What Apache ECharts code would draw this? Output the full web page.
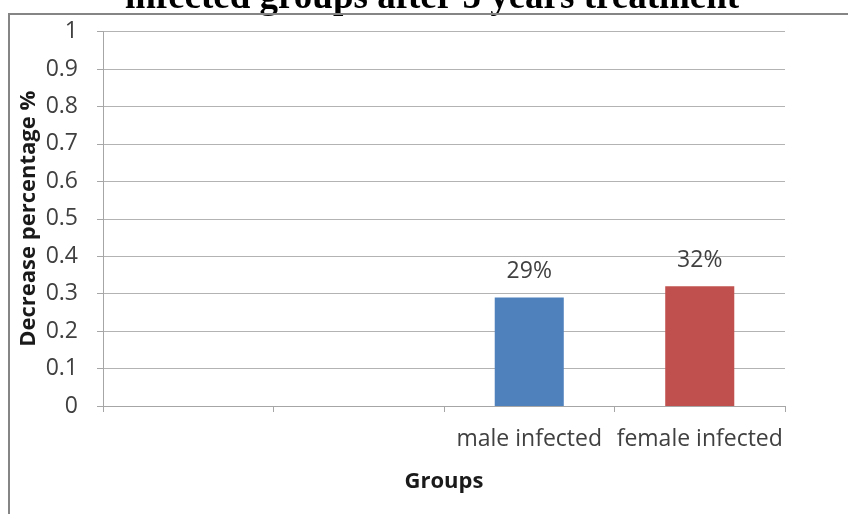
<!DOCTYPE html>
<html>
<head>
<meta charset="utf-8">
<script src="https://cdn.jsdelivr.net/npm/echarts@6/dist/echarts.min.js"></script>
<style>
  html, body { margin: 0; padding: 0; background: #fff; }
  #chart { width: 848px; height: 514px; }
</style>
</head>
<body>
<div id="chart"></div>
<script>
// Groups on the category axis (the first two slots are empty in the workbook)
const groups = ['', '', 'male infected', 'female infected'];
// Decrease fraction per group
const decrease = [null, null, 0.29, 0.32];
const barColors = ['#4F81BD', '#4F81BD', '#4F81BD', '#C0504D'];
// Value axis ticks
const yMin = 0;
const yMax = 1;
const yStep = 0.1;

const labelFont = 'Open Sans';
const chart = echarts.init(document.getElementById('chart'), null, { renderer: 'canvas' });

chart.setOption({
  animation: false,
  backgroundColor: '#fff',
  title: {
    text: 'infected groups after 5 years treatment',
    left: 120,
    top: -25,
    textStyle: {
      fontFamily: 'Liberation Serif',
      fontWeight: 'bold',
      fontSize: 37,
      color: '#000'
    }
  },
  graphic: [{
    type: 'rect',
    z: 100,
    shape: { x: 9, y: 14, width: 900, height: 600 },
    style: { fill: 'none', stroke: '#858585', lineWidth: 2 }
  }],
  grid: { left: 103, right: 63, top: 31.6, bottom: 108, containLabel: false },
  xAxis: {
    type: 'category',
    data: groups,
    name: 'Groups',
    nameLocation: 'middle',
    nameGap: 65,
    nameMoveOverlap: false,
    nameTextStyle: { fontFamily: labelFont, fontWeight: 'bold', fontSize: 22, color: '#1a1a1a' },
    axisLine: { lineStyle: { color: '#a6a6a6', width: 1 } },
    axisTick: { show: true, length: 6, lineStyle: { color: '#a6a6a6' } },
    axisLabel: { interval: 0, margin: 22, fontFamily: labelFont, fontSize: 23, color: '#404040' },
    splitLine: { show: false }
  },
  yAxis: {
    type: 'value',
    min: yMin,
    max: yMax,
    interval: yStep,
    name: 'Decrease percentage %',
    nameLocation: 'middle',
    nameGap: 63,
    nameMoveOverlap: false,
    nameTextStyle: { fontFamily: labelFont, fontWeight: 'bold', fontSize: 22, color: '#1a1a1a' },
    axisLine: { show: true, lineStyle: { color: '#a6a6a6', width: 1 } },
    axisTick: { show: true, length: 6, lineStyle: { color: '#a6a6a6' } },
    axisLabel: { margin: 25, fontFamily: labelFont, fontSize: 23, color: '#404040' },
    splitLine: { show: true, lineStyle: { color: '#b3b3b3', width: 1 } }
  },
  series: [{
    type: 'bar',
    barWidth: '40.5%',
    data: decrease.map((v, i) => ({ value: v, itemStyle: { color: barColors[i] } })),
    label: {
      show: true,
      position: 'top',
      distance: 14,
      fontFamily: labelFont,
      fontSize: 23,
      color: '#404040',
      formatter: p => (p.value == null ? '' : Math.round(p.value * 100) + '%')
    }
  }]
});
</script>
</body>
</html>
